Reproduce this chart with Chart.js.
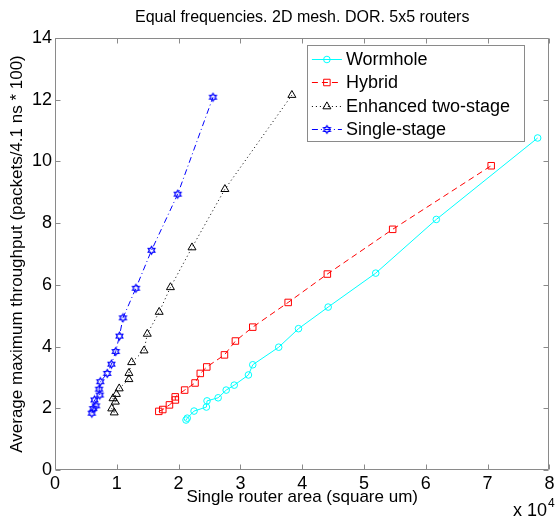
<!DOCTYPE html>
<html><head><meta charset="utf-8">
<script src="https://cdn.jsdelivr.net/npm/chart.js@4.4.0/dist/chart.umd.min.js"></script>
<style>html,body{margin:0;padding:0;background:#fff}#wrap{width:555px;height:519px}</style>
</head><body><div id="wrap"><canvas id="c" width="555" height="519"></canvas></div>
<script>
const FONT = '"Liberation Sans", Arial, Helvetica, sans-serif';
const titleText = 'Equal frequencies. 2D mesh. DOR. 5x5 routers';
const xAxisLabel = 'Single router area (square um)';
const yAxisLabel = 'Average maximum throughput (packets/4.1 ns * 100)';
const seriesNames = ['Wormhole', 'Hybrid', 'Enhanced two-stage', 'Single-stage'];
const xTickValues = [0, 10000, 20000, 30000, 40000, 50000, 60000, 70000, 80000];
const yTickValues = [0, 2, 4, 6, 8, 10, 12, 14];

// Single router area (square um)
const wormholeArea = [21200, 21400, 22500, 24500, 24600, 26400, 27700, 29000, 31300, 32000, 36200, 39400, 44200, 51900, 61700, 78100];
const wormholeThroughput = [1.62, 1.68, 1.91, 2.04, 2.24, 2.34, 2.59, 2.75, 3.08, 3.41, 3.98, 4.58, 5.28, 6.38, 8.12, 10.76];

const hybridArea = [16800, 17440, 18520, 19480, 19450, 20980, 22660, 23510, 24560, 27420, 29190, 32000, 37730, 44070, 54640, 70580];
const hybridThroughput = [1.90, 1.96, 2.11, 2.27, 2.37, 2.59, 2.82, 3.13, 3.34, 3.73, 4.18, 4.63, 5.43, 6.35, 7.80, 9.86];

const enhancedArea = [9580, 9180, 9770, 9390, 9940, 10390, 11960, 11960, 12400, 14410, 14930, 16860, 18680, 22170, 27490, 38330];
const enhancedThroughput = [1.86, 1.99, 2.21, 2.32, 2.46, 2.64, 2.94, 3.14, 3.49, 3.87, 4.41, 5.12, 5.92, 7.21, 9.10, 12.15];

const singleArea = [5960, 6170, 6630, 6390, 7250, 7130, 7330, 8450, 9130, 9820, 10430, 11000, 13090, 15620, 19860, 25560];
const singleThroughput = [1.84, 1.99, 2.08, 2.27, 2.43, 2.62, 2.86, 3.13, 3.43, 3.84, 4.34, 4.93, 5.89, 7.12, 8.94, 12.08];

const toPoints = (xs, ys) => xs.map((x, i) => ({x: x, y: ys[i]}));

function hexagram(color) {
  const c = document.createElement('canvas');
  c.width = 11; c.height = 11;
  const g = c.getContext('2d');
  const R = 3.9, r = R / Math.sqrt(3), cx = 5.5, cy = 5.5;
  g.strokeStyle = color; g.lineWidth = 1.2;
  g.beginPath();
  for (let k = 0; k < 12; k++) {
    const ang = -Math.PI / 2 + k * Math.PI / 6;
    const rad = (k % 2 === 0) ? R : r;
    const px = cx + rad * Math.cos(ang), py = cy + rad * Math.sin(ang);
    if (k === 0) g.moveTo(px, py); else g.lineTo(px, py);
  }
  g.closePath(); g.stroke();
  return c;
}
const hexBlue = hexagram('#0000ff');

const AXIS_COLOR = '#8a8a8a';

const decor = {
  id: 'decor',
  beforeDatasetsDraw(chart) {
    const {ctx, chartArea: a, scales: {x, y}} = chart;
    ctx.save();
    ctx.strokeStyle = AXIS_COLOR; ctx.lineWidth = 1;
    const L = Math.round(a.left) + 0.5, R = Math.round(a.right) - 0.5;
    const T = Math.round(a.top) + 0.5, B = Math.round(a.bottom) - 0.5;
    ctx.beginPath();
    ctx.rect(L, T, R - L, B - T);
    xTickValues.forEach(v => {
      const px = Math.round(x.getPixelForValue(v)) + 0.5;
      ctx.moveTo(px, B); ctx.lineTo(px, B - 5);
      ctx.moveTo(px, T); ctx.lineTo(px, T + 5);
    });
    yTickValues.forEach(v => {
      const py = Math.round(y.getPixelForValue(v)) + 0.5;
      ctx.moveTo(L, py); ctx.lineTo(L + 5, py);
      ctx.moveTo(R, py); ctx.lineTo(R - 5, py);
    });
    ctx.stroke();
    ctx.restore();
  },
  afterDraw(chart) {
    const {ctx, chartArea: a} = chart;
    ctx.save();
    // exponent label
    ctx.fillStyle = '#000';
    ctx.textBaseline = 'alphabetic';
    ctx.textAlign = 'right';
    ctx.font = '18px ' + FONT;
    ctx.fillText('x 10', 547, 516);
    ctx.textAlign = 'left';
    ctx.font = '12px ' + FONT;
    ctx.fillText('4', 548, 507);

    // legend
    const ds = chart.data.datasets;
    ctx.font = '18px ' + FONT;
    let tw = 0;
    ds.forEach(d => { tw = Math.max(tw, ctx.measureText(d.label).width); });
    const right = Math.round(a.right) - 24, top = Math.round(a.top) + 7;
    const rowH = 23.3;
    const left = right - (5 + 30 + 4 + tw + 15);
    const bottom = top + 14 + rowH * (ds.length - 1) + 13;
    ctx.fillStyle = '#fff';
    ctx.fillRect(left, top, right - left, bottom - top);
    ctx.strokeStyle = AXIS_COLOR; ctx.lineWidth = 1;
    ctx.strokeRect(Math.round(left) + 0.5, top + 0.5, right - Math.round(left) - 1, Math.round(bottom - top) - 1);
    ds.forEach((d, i) => {
      const cy = Math.round(top + 14 + rowH * i) + 0.5;
      const x0 = left + 5, x1 = left + 35;
      ctx.save();
      ctx.strokeStyle = d.borderColor; ctx.lineWidth = 1;
      ctx.setLineDash(d.borderDash || []);
      ctx.beginPath(); ctx.moveTo(x0, cy); ctx.lineTo(x1, cy); ctx.stroke();
      ctx.setLineDash([]);
      ctx.strokeStyle = d.pointBorderColor; ctx.fillStyle = 'rgba(0,0,0,0)';
      Chart.helpers.drawPoint(ctx, {pointStyle: d.pointStyle, radius: d.pointRadius, borderWidth: 1, rotation: 0}, (x0 + x1) / 2, cy);
      ctx.restore();
      ctx.fillStyle = '#000';
      ctx.textAlign = 'left'; ctx.textBaseline = 'middle';
      ctx.fillText(d.label, left + 39, cy + 1);
    });
    ctx.restore();
  }
};

const common = {showLine: true, borderWidth: 1, pointBorderWidth: 1, pointBackgroundColor: 'rgba(0,0,0,0)', fill: false, tension: 0};

new Chart(document.getElementById('c'), {
  type: 'scatter',
  data: {
    datasets: [
      Object.assign({}, common, {label: seriesNames[0], data: toPoints(wormholeArea, wormholeThroughput), borderColor: '#00ffff', pointBorderColor: '#00ffff', pointStyle: 'circle', pointRadius: 3.3, borderDash: []}),
      Object.assign({}, common, {label: seriesNames[1], data: toPoints(hybridArea, hybridThroughput), borderColor: '#ff0000', pointBorderColor: '#ff0000', pointStyle: 'rect', pointRadius: 4.6, borderDash: [6, 4]}),
      Object.assign({}, common, {label: seriesNames[2], data: toPoints(enhancedArea, enhancedThroughput), borderColor: '#000000', pointBorderColor: '#000000', pointStyle: 'triangle', pointRadius: 4.6, borderDash: [1, 3]}),
      Object.assign({}, common, {label: seriesNames[3], data: toPoints(singleArea, singleThroughput), borderColor: '#0000ff', pointBorderColor: '#0000ff', pointStyle: hexBlue, pointRadius: 4, borderDash: [6, 3, 1, 3]})
    ]
  },
  options: {
    responsive: false,
    animation: false,
    devicePixelRatio: 1,
    layout: {padding: {top: 0, right: 3, bottom: 0, left: 0}},
    plugins: {
      legend: {display: false},
      tooltip: {enabled: false},
      title: {display: true, text: titleText, color: '#000', fullSize: false,
        font: {family: FONT, size: 16, weight: 'normal'}, padding: {top: 8, bottom: 10.8}}
    },
    scales: {
      x: {
        type: 'linear', position: 'bottom', min: 0, max: 80000,
        afterBuildTicks(s) { s.ticks = xTickValues.map(v => ({value: v})); },
        ticks: {color: '#000', font: {family: FONT, size: 18}, padding: 3, maxRotation: 0, autoSkip: false,
          callback: v => String(v / 10000)},
        grid: {display: false, drawTicks: false},
        border: {display: false},
        title: {display: true, text: xAxisLabel, color: '#000', font: {family: FONT, size: 17}, padding: {top: 0, bottom: 11}},
        afterFit(s) { s.height = 49; s.paddingLeft = 0; s.paddingRight = 0; }
      },
      y: {
        type: 'linear', position: 'left', min: 0, max: 14,
        afterBuildTicks(s) { s.ticks = yTickValues.map(v => ({value: v})); },
        ticks: {color: '#000', font: {family: FONT, size: 18}, padding: 3, autoSkip: false},
        grid: {display: false, drawTicks: false},
        border: {display: false},
        title: {display: true, text: yAxisLabel, color: '#000', font: {family: FONT, size: 17}, padding: {top: 7, bottom: 0}},
        afterFit(s) { s.width = 55; s.paddingTop = 0; s.paddingBottom = 0; }
      }
    }
  },
  plugins: [decor]
});
</script>
</body></html>
